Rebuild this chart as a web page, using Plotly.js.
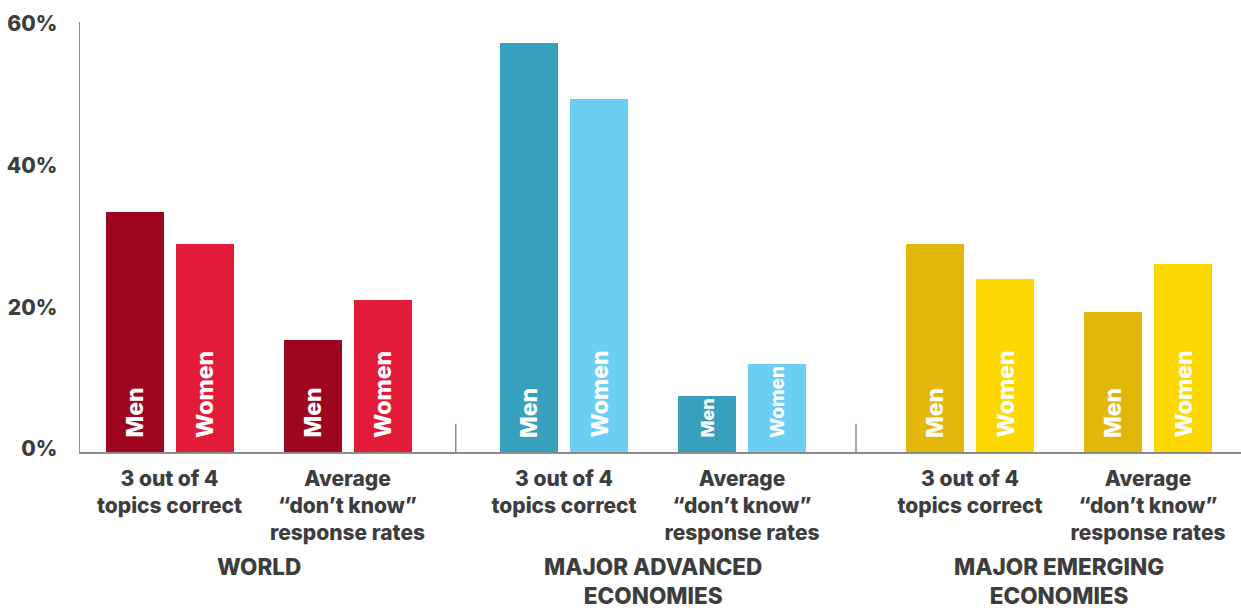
<!DOCTYPE html>
<html>
<head>
<meta charset="utf-8">
<script src="https://cdn.plot.ly/plotly-3.0.1.min.js"></script>
<style>html,body{margin:0;padding:0;background:#fff;}#chart{width:1241px;height:608px;}</style>
</head>
<body>
<div id="chart"></div>
<script>
// ---- data ----
const regions = ['WORLD', 'MAJOR ADVANCED<br>ECONOMIES', 'MAJOR EMERGING<br>ECONOMIES'];
const measures = ['3 out of 4<br>topics correct', 'Average<br>“don’t know”<br>response rates'];
const seriesNames = ['Men', 'Women'];
// order: region-major (World 3of4, World DK, Advanced 3of4, Advanced DK, Emerging 3of4, Emerging DK)
const menValues = [33.9, 15.8, 57.7, 7.9, 29.4, 19.8];
const womenValues = [29.4, 21.5, 49.8, 12.4, 24.4, 26.5];
const yTicks = [0, 20, 40, 60];

// ---- styles ----
const menColors = ['#9E0620', '#37A0BC', '#E3B60A'];
const womenColors = ['#E31B38', '#6BCFF3', '#FDD700'];
const FONT = 'Inter, Roboto, "Liberation Sans", Arial, sans-serif';
const W = 800;
const TXT = '#3d3d3d';
const AXIS = '#8c8c8c';

// ---- layout geometry (axis units == pixels) ----
const regionMid = [258.5, 653, 1059], pairHalf = 89, barW = 58, gap = 12;
const centers = [], cats = [], barColorsMen = [], barColorsWomen = [];
regions.forEach((r, ri) => measures.forEach((m, mi) => {
  centers.push(regionMid[ri] + (mi === 0 ? -pairHalf : pairHalf));
  cats.push(m);
  barColorsMen.push(menColors[ri]);
  barColorsWomen.push(womenColors[ri]);
}));

const traces = [
  {type: 'bar', name: seriesNames[0], x: centers, y: menValues, width: barW, offset: -(barW + gap / 2),
   marker: {color: barColorsMen, line: {width: 0}}, hoverinfo: 'y', showlegend: false},
  {type: 'bar', name: seriesNames[1], x: centers, y: womenValues, width: barW, offset: gap / 2,
   marker: {color: barColorsWomen, line: {width: 0}}, hoverinfo: 'y', showlegend: false}
];

const annotations = [];
function sizeFor(v) { return v < 10 ? 18 : (v < 14 ? 19 : 23); }
centers.forEach((c, i) => {
  [[menValues, -(gap / 2 + barW / 2), seriesNames[0]], [womenValues, gap / 2 + barW / 2, seriesNames[1]]].forEach(([vals, dx, lbl]) => {
    annotations.push({
      xref: 'x', yref: 'y', x: c + dx, y: 0, text: lbl, textangle: -90,
      xanchor: 'center', yanchor: 'bottom', yshift: 12, showarrow: false,
      font: {family: FONT, size: sizeFor(vals[i]), color: '#ffffff', weight: W}
    });
  });
});
regions.forEach((r, ri) => {
  annotations.push({
    xref: 'x', yref: 'paper', x: regionMid[ri], y: 0, yanchor: 'top', xanchor: 'center', yshift: -99,
    text: r, showarrow: false, align: 'center',
    font: {family: FONT, size: 22.5, color: TXT, weight: W}
  });
});

const shapes = [];
for (let ri = 1; ri < regions.length; ri++) {
  const xm = (centers[ri * 2 - 1] + centers[ri * 2]) / 2;
  shapes.push({type: 'line', xref: 'x', yref: 'y', x0: xm, x1: xm, y0: 4, y1: -12.6,
    line: {color: AXIS, width: 1.5}});
}

const layout = {
  width: 1241, height: 608,
  margin: {l: 80, r: 0, t: 22, b: 156, pad: 0},
  paper_bgcolor: '#ffffff', plot_bgcolor: '#ffffff',
  bargap: 0,
  xaxis: {range: [80, 1241], tickvals: centers, ticktext: cats, showgrid: false, zeroline: false,
    showline: true, linecolor: AXIS, linewidth: 1.5, ticks: 'outside', ticklen: 7, tickcolor: 'rgba(0,0,0,0)',
    tickfont: {family: FONT, size: 21, color: TXT, weight: W}, fixedrange: true},
  yaxis: {range: [0, 60.7], tickvals: yTicks, ticktext: yTicks.map(v => v + '%'), showgrid: false, zeroline: false,
    showline: true, linecolor: AXIS, linewidth: 1.5, ticks: 'outside', ticklen: 17, tickcolor: 'rgba(0,0,0,0)',
    ticklabelshift: -3,
    tickfont: {family: FONT, size: 21, color: TXT, weight: W}, fixedrange: true},
  annotations: annotations,
  shapes: shapes,
  showlegend: false
};

Plotly.newPlot('chart', traces, layout, {displayModeBar: false, staticPlot: true});
</script>
</body>
</html>
